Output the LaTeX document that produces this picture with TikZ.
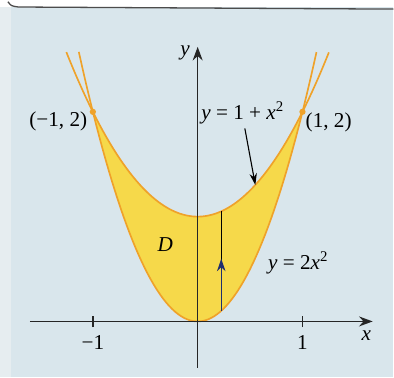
\documentclass[tikz,border=0pt]{standalone}
\usepackage{fontspec}
\setmainfont{Liberation Serif}
\usetikzlibrary{arrows.meta,positioning}
\definecolor{bgblue}{HTML}{D9E6EC}
\definecolor{bgpale}{HTML}{E6EDF0}
\definecolor{regionyellow}{HTML}{F6D94A}
\definecolor{curveorange}{HTML}{EFA22A}
\definecolor{arrownavy}{HTML}{1F2E6E}
\newcommand{\vr}[1]{\textit{#1}}

\begin{document}
\begin{tikzpicture}[
  x=2cm, y=2cm,
  font=\fontsize{11.5}{13}\selectfont,
  curve/.style={draw=curveorange, line width=0.9pt},
  axis/.style={-{Stealth[length=2.6mm,width=1.9mm]}, line width=0.9pt, draw=black!85},
  tick/.style={line width=0.8pt, draw=black!85},
  lbl/.style={inner sep=1pt},
  pt/.style={fill=curveorange, draw=none},
  pointer/.style={-{Stealth[length=2.2mm,width=1.4mm]}, line width=0.6pt},
]

% ---- background and the page edge ----
\fill[white] (-1.886,-0.533) rectangle (1.867,3.067);
\fill[bgblue] (-1.886,-0.533) rectangle (1.867,3.0);
\fill[bgpale] (-1.886,-0.533) rectangle (-1.78,3.0);
\draw[black!70, line width=0.7pt] (-1.81,3.05) .. controls (-1.78,3.01) .. (-1.71,3.0) -- (1.867,2.98);
\useasboundingbox (-1.886,-0.533) rectangle (1.867,3.067);

% ---- region D between the two parabolas ----
\fill[regionyellow]
  plot[domain=-1:1, samples=60] (\x,{1+\x*\x}) --
  plot[domain=1:-1, samples=60] (\x,{2*\x*\x}) -- cycle;

% ---- curves ----
\draw[curve] plot[domain=-1.253:1.253, samples=80] (\x,{1+\x*\x});
\draw[curve] plot[domain=-1.134:1.134, samples=80] (\x,{2*\x*\x});

% ---- axes ----
\draw[axis] (-1.6,0) -- (1.67,0);
\draw[axis] (0,-0.44) -- (0,2.62);
\foreach \t in {-1,1}
  \draw[tick] (\t,-0.055) -- (\t,0.055);

% ---- intersection points ----
\fill[pt] (-1,2) circle (0.03);
\fill[pt] (1,2) circle (0.03);

% ---- vertical strip with arrow ----
\coordinate (low) at (0.225,{2*0.225*0.225});
\coordinate (mid) at (0.225,0.60);
\coordinate (high) at (0.225,{1+0.225*0.225});
\draw[line width=0.8pt] (low) -- (high);
\draw[line width=0.8pt, draw=arrownavy, -{Stealth[length=2.4mm,width=1.6mm]}] (low) -- (mid);

% ---- labels ----
\node[lbl] (ylab)  at (-0.12,2.56) {\vr{y}};
\node[lbl] (xlab)  at (1.61,-0.14) {\vr{x}};
\node[lbl] (mone)  at (-1,-0.20)   {−1};
\node[lbl] (one)   at (1,-0.20)    {1};
\node[lbl] (lpt)   at (-1.33,1.905) {(−1, 2)};
\node[lbl] (rpt)   at (1.25,1.895)  {(1, 2)};
\node[lbl] (upper) at (0.43,1.99)   {\vr{y} = 1 + \vr{x}\textsuperscript{2}};
\node[lbl] (lower) at (0.96,0.56)   {\vr{y} = 2\vr{x}\textsuperscript{2}};
\node[lbl] (dlab)  at (-0.31,0.73)  {\vr{D}};

\coordinate (touch) at (0.55,{1+0.55*0.55});
\draw[pointer] (upper.south) ++(0.02,-0.02) -- (touch);
\end{tikzpicture}
\end{document}
